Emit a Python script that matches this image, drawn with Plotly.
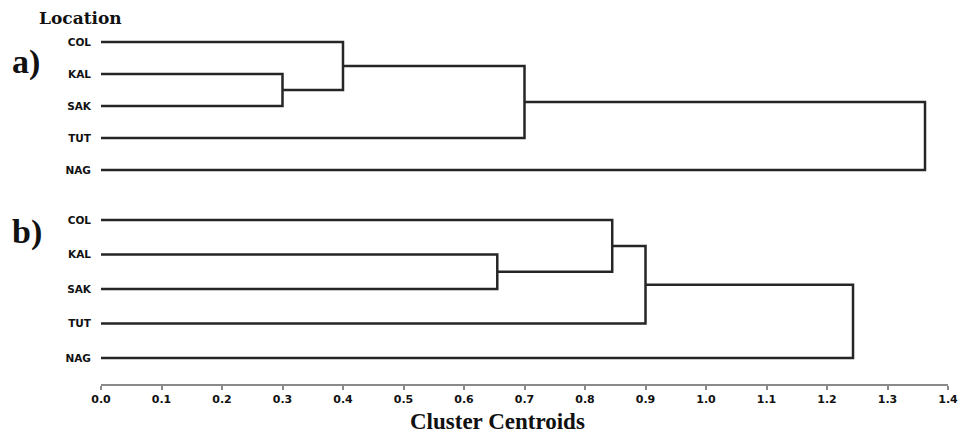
import plotly.graph_objects as go

# ---- data ----
leaves = ["COL", "KAL", "SAK", "TUT", "NAG"]
# merges: (left member, right member, merge distance); members are leaf names or "c<k>" (k-th merge)
merges_a = [("KAL", "SAK", 0.30), ("COL", "c0", 0.40), ("c1", "TUT", 0.70), ("c2", "NAG", 1.362)]
merges_b = [("KAL", "SAK", 0.655), ("COL", "c0", 0.845), ("c1", "TUT", 0.90), ("c2", "NAG", 1.243)]
panel_labels = ["a)", "b)"]
x_ticks = [round(i * 0.1, 1) for i in range(15)]
x_title = "Cluster Centroids"
y_title = "Location"


def dendro_segments(leaves, merges):
    pos = {name: (0.0, float(i)) for i, name in enumerate(leaves)}  # (height, y index)
    xs, ys = [], []
    for k, (a, b, h) in enumerate(merges):
        ha, ya = pos[a]
        hb, yb = pos[b]
        xs += [ha, h, h, hb, None]
        ys += [ya, ya, yb, yb, None]
        pos["c%d" % k] = (h, (ya + yb) / 2.0)
    return xs, ys


line_style = dict(color="#262626", width=2.5)
fig = go.Figure()
xa, ya = dendro_segments(leaves, merges_a)
xb, yb = dendro_segments(leaves, merges_b)
fig.add_trace(go.Scatter(x=xa, y=ya, mode="lines", line=line_style, xaxis="x", yaxis="y",
                         hoverinfo="skip", showlegend=False))
fig.add_trace(go.Scatter(x=xb, y=yb, mode="lines", line=line_style, xaxis="x", yaxis="y2",
                         hoverinfo="skip", showlegend=False))

W, H = 958, 434
PLOT_TOP, PLOT_BOTTOM, PLOT_LEFT, PLOT_RIGHT = 30, 385, 101, 948  # page pixels
ML, MR = PLOT_LEFT, W - PLOT_RIGHT
MT, MB = PLOT_TOP, H - PLOT_BOTTOM
PW, PH = W - ML - MR, H - MT - MB


def px(x):
    return (x - PLOT_LEFT) / PW


def py(y):
    return (PLOT_BOTTOM - y) / PH


leaf_font = dict(family="DejaVu Sans", size=10.5, color="#111", weight="bold")
yaxis_common = dict(showline=False, showgrid=False, zeroline=False, ticks="",
                    tickmode="array", tickvals=list(range(len(leaves))), ticktext=leaves,
                    tickfont=leaf_font, ticklabelstandoff=9, fixedrange=True, automargin=False)

fig.update_layout(
    width=W, height=H,
    margin=dict(l=ML, r=MR, t=MT, b=MB, pad=0, autoexpand=False),
    paper_bgcolor="white", plot_bgcolor="white",
    xaxis=dict(range=[0, 1.4], tickmode="array", tickvals=x_ticks,
               ticktext=["%.1f" % v for v in x_ticks],
               showline=True, linecolor="#8a8a8a", linewidth=2,
               ticks="outside", ticklen=4, tickwidth=1.5, tickcolor="#8a8a8a",
               showgrid=False, zeroline=False, ticklabeloverflow="allow", automargin=False,
               tickfont=dict(family="DejaVu Sans", size=11, color="#111", weight="bold"),
               anchor="free", position=0, fixedrange=True),
    yaxis=dict(domain=[py(182), py(30)], range=[4.375, -0.375], anchor="x", **yaxis_common),
    yaxis2=dict(domain=[py(373), py(205)], range=[4.435, -0.435], anchor="x", **yaxis_common),
    annotations=[
        dict(text=y_title, x=px(37), y=py(18), xref="paper", yref="paper",
             xanchor="left", yanchor="middle", showarrow=False,
             font=dict(family="DejaVu Serif", size=17, color="#111", weight="bold")),
        dict(text=panel_labels[0], x=px(10), y=py(62), xref="paper", yref="paper",
             xanchor="left", yanchor="middle", showarrow=False,
             font=dict(family="Liberation Serif", size=34, color="#111", weight="bold")),
        dict(text=panel_labels[1], x=px(10), y=py(232), xref="paper", yref="paper",
             xanchor="left", yanchor="middle", showarrow=False,
             font=dict(family="Liberation Serif", size=34, color="#111", weight="bold")),
        dict(text=x_title, x=px(497), y=py(421), xref="paper", yref="paper",
             xanchor="center", yanchor="middle", showarrow=False,
             font=dict(family="Liberation Serif", size=23, color="#111", weight="bold")),
    ],
)

fig.write_html("out.html", config={"displayModeBar": False},
               post_script="document.body.style.margin='0';document.body.style.overflow='hidden';")
